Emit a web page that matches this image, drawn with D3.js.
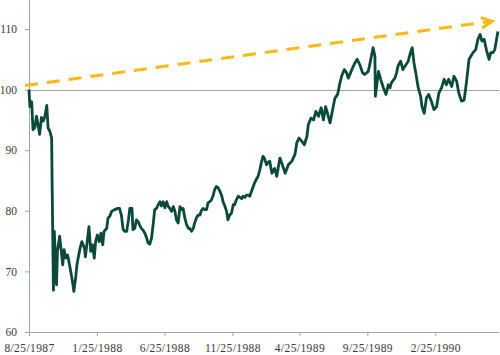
<!DOCTYPE html>
<html><head><meta charset="utf-8">
<script src="https://cdn.jsdelivr.net/npm/d3@7"></script>
<style>body{margin:0;background:#fff}svg{display:block}text{font-family:"Liberation Serif","Times New Roman",serif}</style>
</head><body><svg id="c" width="500" height="355"></svg>
<script>
const dates = [
"1987-08-25","1987-08-27","1987-08-31","1987-09-03","1987-09-07","1987-09-11","1987-09-15","1987-09-18","1987-09-22","1987-09-26","1987-09-30",
"1987-10-04","1987-10-07","1987-10-11","1987-10-15","1987-10-16","1987-10-19","1987-10-21","1987-10-26","1987-10-28",
"1987-11-02","1987-11-05","1987-11-09","1987-11-12","1987-11-16","1987-11-20","1987-11-23","1987-11-27",
"1987-12-01","1987-12-04","1987-12-08","1987-12-11","1987-12-15","1987-12-18","1987-12-22","1987-12-28","1987-12-30",
"1988-01-04","1988-01-07","1988-01-11","1988-01-15","1988-01-19","1988-01-22","1988-01-26","1988-01-30",
"1988-02-03","1988-02-07","1988-02-10","1988-02-16","1988-02-19","1988-02-23","1988-02-27",
"1988-03-05","1988-03-12","1988-03-16","1988-03-20","1988-03-24","1988-03-28",
"1988-04-01","1988-04-05","1988-04-08","1988-04-13","1988-04-15","1988-04-19","1988-04-23","1988-04-27",
"1988-05-01","1988-05-04","1988-05-08","1988-05-12","1988-05-16","1988-05-19","1988-05-23","1988-05-27","1988-05-31",
"1988-06-03","1988-06-07","1988-06-11","1988-06-15","1988-06-18","1988-06-22","1988-06-26","1988-06-30",
"1988-07-03","1988-07-07","1988-07-11","1988-07-15","1988-07-19","1988-07-22","1988-07-26","1988-07-30",
"1988-08-03","1988-08-06","1988-08-10","1988-08-14","1988-08-18","1988-08-21","1988-08-25","1988-08-29",
"1988-09-01","1988-09-05","1988-09-09","1988-09-13","1988-09-16","1988-09-20","1988-09-24","1988-09-28",
"1988-10-01","1988-10-05","1988-10-09","1988-10-13","1988-10-16","1988-10-20","1988-10-24","1988-10-28",
"1988-11-01","1988-11-04","1988-11-08","1988-11-12","1988-11-15","1988-11-19","1988-11-23","1988-11-27","1988-11-30",
"1988-12-04","1988-12-08","1988-12-12","1988-12-16","1988-12-19","1988-12-23","1988-12-27","1988-12-31",
"1989-01-03","1989-01-07","1989-01-11","1989-01-14","1989-01-18","1989-01-22","1989-01-26","1989-01-30",
"1989-02-02","1989-02-05","1989-02-10","1989-02-13","1989-02-17","1989-02-22","1989-02-28",
"1989-03-05","1989-03-12","1989-03-18","1989-03-24","1989-03-31",
"1989-04-08","1989-04-15","1989-04-19","1989-04-24","1989-04-30",
"1989-05-06","1989-05-12","1989-05-15","1989-05-21","1989-05-27",
"1989-06-01","1989-06-07","1989-06-13","1989-06-18","1989-06-23","1989-06-29",
"1989-07-03","1989-07-08","1989-07-14","1989-07-20","1989-07-25","1989-07-29",
"1989-08-04","1989-08-09","1989-08-13","1989-08-17","1989-08-21","1989-08-24","1989-08-28",
"1989-09-02","1989-09-08","1989-09-14","1989-09-19","1989-09-27","1989-09-30",
"1989-10-04","1989-10-08","1989-10-12","1989-10-13","1989-10-20","1989-10-25","1989-10-31",
"1989-11-06","1989-11-11","1989-11-15","1989-11-18","1989-11-22","1989-11-26","1989-11-30",
"1989-12-03","1989-12-09","1989-12-14","1989-12-21","1989-12-26","1989-12-31",
"1990-01-04","1990-01-08","1990-01-12","1990-01-17","1990-01-23","1990-01-26","1990-01-31",
"1990-02-05","1990-02-10","1990-02-16","1990-02-22","1990-02-28",
"1990-03-05","1990-03-11","1990-03-17","1990-03-22","1990-03-27",
"1990-04-03","1990-04-08","1990-04-14","1990-04-19","1990-04-25",
"1990-05-01","1990-05-06","1990-05-12","1990-05-16","1990-05-21","1990-05-27",
"1990-06-01","1990-06-06","1990-06-10","1990-06-15","1990-06-20","1990-06-26","1990-06-30",
"1990-07-05","1990-07-09","1990-07-13","1990-07-16"
];
const values = [
100,97.2,98,93.4,93.7,95.6,93.9,92.6,95.4,94.8,95.6,
97.4,93.7,93.1,92,85,66.9,76.6,67.8,73.3,
75.8,73.8,71.1,73.6,72.2,72.7,71.6,70,
68.3,66.7,68.9,71.1,72.7,73.8,74.9,73.8,72.4,
75.5,77.4,73.3,74.4,72.2,74.9,76,74.9,
76.3,74.4,76.6,77.1,78.8,79.1,79.9,
80.2,80.4,80.4,79.3,76.9,76.6,
76.6,78.5,80.4,80.4,76.9,77.1,78.5,78.2,
77.5,77.1,76.8,76.3,75.5,74.7,74.5,75.5,78,
80.2,80.4,81,81.5,80.8,81.5,80.5,81.5,
80.8,80.4,79.9,80.7,79.8,78.5,78,80.7,
80.2,80.4,78.8,77.7,77.1,77.1,76.6,77.1,
78,78.8,79.3,79.3,80,80.4,80.2,80.2,
81.3,81.5,81.8,82.6,83.5,84,83.8,83.2,
82.5,81.5,80.8,79.9,78.5,79.3,79.6,81,81,
81.8,82.4,82.2,82,82.4,82.2,82.6,82.6,
82.4,83.2,84,84.6,85.2,85.7,86.8,88.2,
89,88.7,87.6,88,88.2,86.2,87,
85.7,88.7,87.5,86.2,87.6,
88.2,89.3,91.2,92,91.5,
90.9,92.3,94.2,95.3,95,
96.4,95.6,97,95,97.2,95.6,
94.5,96.4,98.6,99.2,101,102.2,
103.3,102.8,101.9,102.6,103.3,103.8,104.4,
105,104.1,102.8,102.5,103,104,
105.5,106.9,105.5,98.9,103,101.7,100.3,
99.2,100.8,100.3,101.1,101.5,101.9,102.8,
103.9,104.7,103.3,104.1,104.7,106.1,
106.9,104.4,102.8,100.5,98.9,97.2,96.1,
98.6,99.2,98.1,96.7,97.2,
99.4,100.3,101.7,100.8,101.7,
100.5,102.2,101.4,99.4,98.1,
98.3,101.1,105,105.5,106.1,106.6,
108.3,109.1,108,108.3,106.6,105,106.1,
106.1,106.6,108.3,109.6
];
const yTicks = [60, 70, 80, 90, 100, 110];
const xTickLabels = ["8/25/1987","1/25/1988","6/25/1988","11/25/1988","4/25/1989","9/25/1989","2/25/1990"];
const baselineValue = 100;
const trendDates = ["1987-08-16", "1990-07-03"];
const trendValues = [100.66, 111.27];

const parse = d3.timeParse("%Y-%m-%d");
const parseTick = d3.timeParse("%m/%d/%Y");
const tickDates = xTickLabels.map(parseTick);
const data = dates.map((d, i) => ({ date: parse(d), value: values[i] }));
const trend = trendDates.map((d, i) => ({ date: parse(d), value: trendValues[i] }));

const svg = d3.select("#c");
const axisColor = "#a6a6a6";
const textColor = "#3a3a3a";

const x = d3.scaleTime().domain([tickDates[0], tickDates[tickDates.length - 1]]).range([29, 435.3]);
const y = d3.scaleLinear().domain([yTicks[0], 110]).range([332, 29]);
const xEnd = 499;

svg.append("line")
  .attr("x1", 29).attr("x2", xEnd)
  .attr("y1", Math.round(y(baselineValue)) + 0.5).attr("y2", Math.round(y(baselineValue)) + 0.5)
  .attr("stroke", axisColor).attr("stroke-width", 1);

const gy = svg.append("g").attr("transform", "translate(29,0)")
  .call(d3.axisLeft(y).tickValues(yTicks).tickSize(4).tickPadding(8).tickFormat(d3.format("d")));
gy.select(".domain").remove();
gy.selectAll(".tick line").attr("stroke", axisColor);
gy.selectAll(".tick text").attr("font-family", null).attr("font-size", 11.5).attr("fill", textColor);
svg.append("line").attr("x1", 29.5).attr("x2", 29.5).attr("y1", 0).attr("y2", 332.5)
  .attr("stroke", axisColor);

const gx = svg.append("g").attr("transform", "translate(0,332)")
  .call(d3.axisBottom(x).tickValues(tickDates).tickSize(4).tickPadding(8)
    .tickFormat((d, i) => xTickLabels[i]));
gx.select(".domain").remove();
gx.selectAll(".tick line").attr("stroke", axisColor);
gx.selectAll(".tick text").attr("font-family", null).attr("font-size", 11.5)
  .attr("fill", textColor).attr("letter-spacing", "0.4px");
svg.append("line").attr("x1", 29).attr("x2", xEnd).attr("y1", 332.5).attr("y2", 332.5)
  .attr("stroke", axisColor);
d3.select(svg.node().parentNode).selectAll("g").attr("font-family", null);

const trendColor = "#fbb816";
svg.append("path").datum(trend)
  .attr("d", d3.line().x(d => x(d.date)).y(d => y(d.value)))
  .attr("fill", "none").attr("stroke", trendColor).attr("stroke-width", 3)
  .attr("stroke-dasharray", "13,9");
const p0 = trend[0], p1 = trend[trend.length - 1];
const tx = x(p1.date), ty = y(p1.value);
const ang = Math.atan2(ty - y(p0.value), tx - x(p0.date));
const armLen = 12, spread = 0.45;
const arm = a => [tx - armLen * Math.cos(ang + a), ty - armLen * Math.sin(ang + a)];
svg.append("path")
  .attr("d", d3.line()([arm(spread), [tx, ty], arm(-spread)]))
  .attr("fill", "none").attr("stroke", trendColor).attr("stroke-width", 3)
  .attr("stroke-linejoin", "miter").attr("stroke-linecap", "butt");

svg.append("path").datum(data)
  .attr("d", d3.line().x(d => x(d.date)).y(d => y(d.value)))
  .attr("fill", "none").attr("stroke", "#0b4a3a").attr("stroke-width", 2.8)
  .attr("stroke-linejoin", "round");
</script></body></html>
